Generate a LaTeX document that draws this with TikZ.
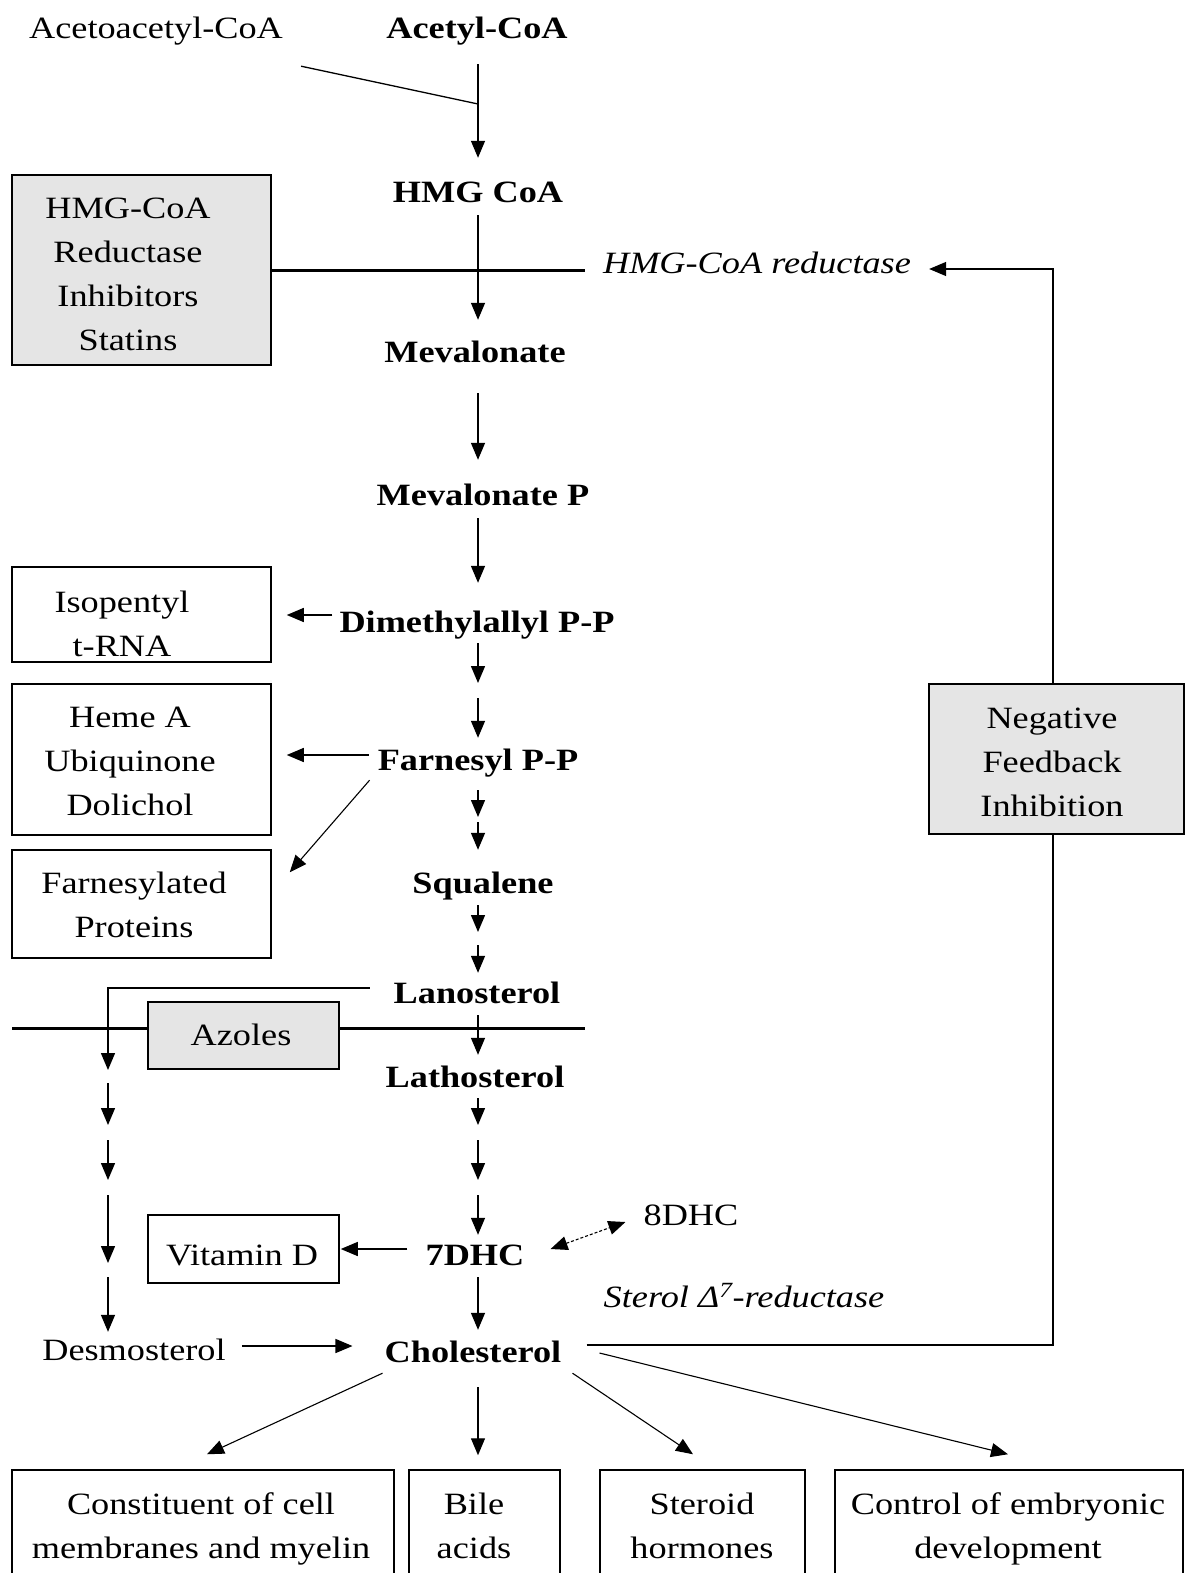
\documentclass[tikz,border=0pt]{standalone}
\usepackage{fontspec}
\setmainfont{Liberation Serif}[FakeStretch=1.17]
\usetikzlibrary{arrows.meta}
\begin{document}
\begin{tikzpicture}[x=1pt,y=-1pt,
  txt/.style={inner sep=0pt, anchor=base, font=\fontsize{31}{44}\selectfont, text height=21pt, text depth=7pt},
  met/.style={txt, font=\fontsize{31}{44}\selectfont\bfseries},
  itx/.style={txt, font=\fontsize{31}{44}\selectfont\itshape},
  mtxt/.style={inner sep=0pt, anchor=center, align=center, font=\fontsize{31}{44}\selectfont},
  box/.style={draw, line width=1.5pt, inner sep=0pt},
  gbox/.style={box, fill=black!10},
  arr/.style={line width=1.4pt, -{Triangle[length=17pt,width=14pt]}},
  thinarr/.style={line width=1.1pt, -{Triangle[length=17pt,width=14pt]}},
  inhib/.style={line width=3pt},
  plainline/.style={line width=1.3pt}
]
\useasboundingbox (0,0) rectangle (1185,1573);
\fill[white] (0,0) rectangle (1185,1573);

% helper coordinates
\coordinate (col) at (478,0);
\coordinate (lcol) at (108,0);
\coordinate (fbx) at (1053,0);
\coordinate (inhend) at (585,0);
\coordinate (y615) at (0,615);
\coordinate (y755) at (0,755);
\coordinate (azl) at (12,1028);
\coordinate (azr) at (585,1028);

% boxes
\node[gbox, minimum width=259pt, minimum height=190pt] (statbox) at (141.5,270) {};
\node[box, minimum width=259pt, minimum height=95pt] (isobox) at (141.5,614.5) {};
\node[box, minimum width=259pt, minimum height=151pt] (hemebox) at (141.5,759.5) {};
\node[box, minimum width=259pt, minimum height=108pt] (fpbox) at (141.5,904) {};
\node[gbox, minimum width=191pt, minimum height=67pt] (azbox) at (243.5,1035.5) {};
\node[box, minimum width=191pt, minimum height=68pt] (vitbox) at (243.5,1249) {};
\node[gbox, minimum width=255pt, minimum height=150pt] (negbox) at (1056.5,759) {};
\node[box, minimum width=382pt, minimum height=130pt] (b1box) at (203,1535) {};
\node[box, minimum width=151pt, minimum height=130pt] (b2box) at (484.5,1535) {};
\node[box, minimum width=205pt, minimum height=130pt] (b3box) at (702.5,1535) {};
\node[box, minimum width=348pt, minimum height=130pt] (b4box) at (1009,1535) {};

% box texts
\node[mtxt] (stattxt) at (128,274) {HMG-CoA\\Reductase\\Inhibitors\\Statins};
\node[mtxt] (isotxt) at (122,624) {Isopentyl\\t-RNA};
\node[mtxt] (hemetxt) at (130,761) {Heme A\\Ubiquinone\\Dolichol};
\node[mtxt] (fptxt) at (134,905) {Farnesylated\\Proteins};
\node[mtxt] (negtxt) at (1052,762) {Negative\\Feedback\\Inhibition};
\node[txt] (aztxt) at (241,1045) {Azoles};
\node[txt] (vittxt) at (242,1265) {Vitamin D};
\node[mtxt] (b1txt) at (201,1529) {Constituent of cell\\membranes and myelin};
\node[mtxt] (b2txt) at (474,1526) {Bile\\acids};
\node[mtxt] (b3txt) at (702,1526) {Steroid\\hormones};
\node[mtxt] (b4txt) at (1008,1529) {Control of embryonic\\development};

% metabolites
\node[txt] (aceto) at (156,39) {Acetoacetyl-CoA};
\node[met] (acetyl) at (477,39) {Acetyl-CoA};
\node[met] (hmg) at (478,203) {HMG CoA};
\node[itx] (hmgred) at (757,273) {HMG-CoA reductase};
\node[met] (meval) at (475,362) {Mevalonate};
\node[met] (mevp) at (483,505) {Mevalonate P};
\node[met] (dimeth) at (477,632) {Dimethylallyl P-P};
\node[met] (farn) at (478,770) {Farnesyl P-P};
\node[met] (squal) at (483,893) {Squalene};
\node[met] (lano) at (477,1003) {Lanosterol};
\node[met] (latho) at (475,1087) {Lathosterol};
\node[met] (dhc7) at (475,1265) {7DHC};
\node[txt] (dhc8) at (691,1225) {8DHC};
\node[itx] (sterol) at (744,1307) {Sterol Δ\textsuperscript{7}-reductase};
\node[txt] (desmo) at (134,1360) {Desmosterol};
\node[met] (chol) at (473,1362) {Cholesterol};

% intermediate coordinates
\coordinate (join) at (478,104);
\coordinate (c1) at (478,690);
\coordinate (c2) at (478,820);
\coordinate (c3) at (478,938);
\coordinate (c4) at (478,1132);
\coordinate (c5) at (478,1188);
\coordinate (l1) at (108,1076);
\coordinate (l2) at (108,1132);
\coordinate (l3) at (108,1188);
\coordinate (l4) at (108,1270);
\coordinate (dch) at (0,1346);

% inhibition bars
\draw[inhib] (statbox.east) -- (statbox.east -| inhend);
\draw[inhib] (azl) -- (azbox.west |- azl);
\draw[inhib] (azbox.east |- azr) -- (azr);

% main column
\draw[arr, shorten <=18pt, shorten >=24pt] (acetyl.south -| col) -- (hmg.north -| col);
\draw[plainline] ([shift={(18,20)}]aceto.south east) -- (join);
\draw[arr, shorten <=5pt, shorten >=21pt] (hmg.south -| col) -- (meval.north -| col);
\draw[arr, shorten <=24pt, shorten >=24pt] (meval.south -| col) -- (mevp.north -| col);
\draw[arr, shorten <=6pt, shorten >=28pt] (mevp.south -| col) -- (dimeth.north -| col);
\draw[arr, shorten <=4pt, shorten >=7pt] (dimeth.south -| col) -- (c1);
\draw[arr, shorten <=8pt, shorten >=11pt] (c1) -- (farn.north -| col);
\draw[arr, shorten <=13pt, shorten >=3pt] (farn.south -| col) -- (c2);
\draw[arr, shorten <=2pt, shorten >=22pt] (c2) -- (squal.north -| col);
\draw[arr, shorten <=5pt, shorten >=6pt] (squal.south -| col) -- (c3);
\draw[arr, shorten <=7pt, shorten >=9pt] (c3) -- (lano.north -| col);
\draw[arr, shorten <=5pt, shorten >=11pt] (lano.south -| col) -- (latho.north -| col);
\draw[arr, shorten <=4pt, shorten >=7pt] (latho.south -| col) -- (c4);
\draw[arr, shorten <=8pt, shorten >=8pt] (c4) -- (c5);
\draw[arr, shorten <=7pt, shorten >=9pt] (c5) -- (dhc7.north -| col);
\draw[arr, shorten <=5pt, shorten >=11pt] (dhc7.south -| col) -- (chol.north -| col);

% side branches
\draw[arr, shorten <=7pt, shorten >=15pt] (dimeth.west |- y615) -- (isobox.east |- y615);
\draw[arr, shorten <=9pt, shorten >=15pt] (farn.west |- y755) -- (hemebox.east |- y755);
\draw[thinarr] ([shift={(-8,3)}]farn.south west) -- ([shift={(18,23)}]fpbox.north east);
\draw[arr, shorten <=18pt, shorten >=1pt] (dhc7.west |- vitbox.east) -- (vitbox.east);
\draw[line width=1.1pt, densely dashed, {Triangle[length=17pt,width=14pt]}-{Triangle[length=17pt,width=14pt]}]
  ([shift={(26,-9)}]dhc7.east) -- ([shift={(-18,4)}]dhc8.west);

% alternative branch via desmosterol
\draw[arr, shorten >=6pt] ([shift={(-24,-8)}]lano.west) -| (l1);
\draw[arr, shorten <=7pt, shorten >=7pt] (l1) -- (l2);
\draw[arr, shorten <=8pt, shorten >=8pt] (l2) -- (l3);
\draw[arr, shorten <=7pt, shorten >=7pt] (l3) -- (l4);
\draw[arr, shorten <=7pt, shorten >=7pt] (l4) -- (desmo.north -| lcol);
\draw[arr, shorten <=16pt, shorten >=32pt] (desmo.east |- dch) -- (chol.west |- dch);

% negative feedback loop
\draw[plainline] ([shift={(25,-10)}]chol.east) -| (negbox.south -| fbx);
\draw[arr] (negbox.north -| fbx) |- ([shift={(18,3)}]hmgred.east);

% products of cholesterol
\draw[thinarr] ([shift={(-2,4)}]chol.south west) -- ([shift={(4,-15)}]b1box.north);
\draw[arr, shorten <=18pt, shorten >=14pt] (chol.south -| col) -- (b2box.north -| col);
\draw[thinarr] ([shift={(11,4)}]chol.south east) -- ([shift={(-9.5,-15)}]b3box.north);
\draw[thinarr] ([shift={(38,-2)}]chol.east) -- ([shift={(-1,-15)}]b4box.north);
\end{tikzpicture}
\end{document}
